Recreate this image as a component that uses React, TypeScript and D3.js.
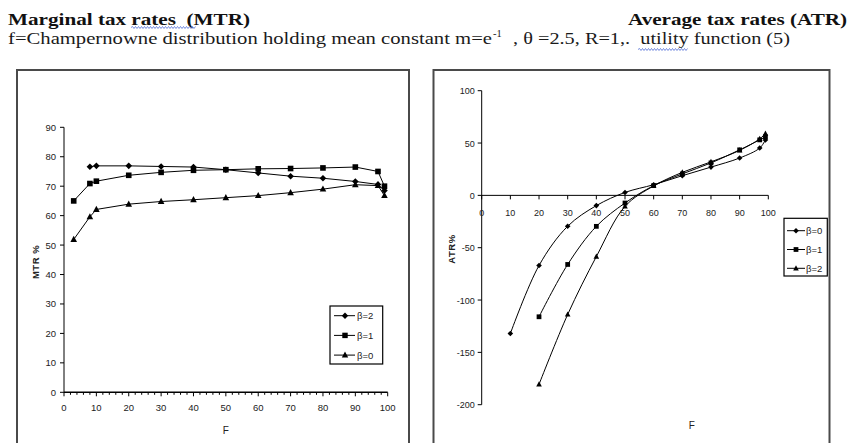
import React from "react";
import * as d3 from "d3";

// ---------- Data ----------
const mtrX = [3, 8, 10, 20, 30, 40, 50, 60, 70, 80, 90, 97, 99];
const mtrBeta2 = [null, 76.6, 76.9, 76.9, 76.7, 76.5, 75.6, 74.5, 73.4, 72.7, 71.6, 70.6, 68.5];
const mtrBeta1 = [65.0, 70.9, 71.7, 73.7, 74.7, 75.4, 75.6, 75.9, 76.0, 76.2, 76.5, 75.0, 70.0];
const mtrBeta0 = [51.9, 59.6, 62.1, 63.9, 64.8, 65.4, 66.1, 66.8, 67.8, 69.0, 70.5, 70.2, 66.8];

const atrX = [10, 20, 30, 40, 50, 60, 70, 80, 90, 97, 99];
const atrBeta0 = [-132, -67, -29.5, -9.8, 2.8, 10.2, 18.8, 27, 35.7, 45.2, 53];
const atrBeta1 = [null, -116, -66, -29.6, -7.3, 9.3, 20.5, 31, 43.5, 53, 56];
const atrBeta2 = [null, -180.6, -113.8, -58.5, -10.5, 9, 22, 32, 43, 54, 59];

const mtrTicksY = [0, 10, 20, 30, 40, 50, 60, 70, 80, 90];
const xTicks = [0, 10, 20, 30, 40, 50, 60, 70, 80, 90, 100];
const atrTicksY = [100, 50, 0, -50, -100, -150, -200];

const mtrLegend = ["β=2", "β=1", "β=0"];
const atrLegend = ["β=0", "β=1", "β=2"];

type Shape = "diamond" | "square" | "triangle";

function Marker({ x, y, shape, s }: { x: number; y: number; shape: Shape; s: number }) {
  if (shape === "diamond") {
    return <path d={`M${x},${y - s}L${x + s},${y}L${x},${y + s}L${x - s},${y}Z`} fill="#000" />;
  }
  if (shape === "square") {
    return <rect x={x - s * 0.85} y={y - s * 0.85} width={s * 1.7} height={s * 1.7} fill="#000" />;
  }
  return <path d={`M${x},${y - s * 1.1}L${x + s},${y + s * 0.75}L${x - s},${y + s * 0.75}Z`} fill="#000" />;
}

function wavy(x0: number, x1: number, y: number) {
  let d = `M${x0},${y}`;
  let up = true;
  for (let x = x0 + 1.5; x <= x1; x += 1.5) {
    d += `L${x},${y + (up ? -1 : 1)}`;
    up = !up;
  }
  return d;
}

export default function App() {
  const W = 852;
  const H = 443;
  const axisFont = "'Liberation Sans', Arial, sans-serif";
  const serif = "'Liberation Serif', 'DejaVu Serif', 'Times New Roman', serif";

  // Left chart scales
  const lx = d3.scaleLinear().domain([0, 100]).range([64, 387.7]);
  const ly = d3.scaleLinear().domain([0, 90]).range([392.3, 127.3]);

  // Right chart scales
  const rx = d3.scaleLinear().domain([0, 100]).range([481.7, 768.3]);
  const ry = d3.scaleLinear().domain([-200, 100]).range([404.7, 90.7]);

  const lineL = d3
    .line<[number, number | null]>()
    .defined((d) => d[1] !== null)
    .x((d) => lx(d[0]))
    .y((d) => ly(d[1] as number));

  const lineR = d3
    .line<[number, number | null]>()
    .defined((d) => d[1] !== null)
    .x((d) => rx(d[0]))
    .y((d) => ry(d[1] as number))
    .curve(d3.curveCatmullRom.alpha(0.5));

  const mtrSeries: { vals: (number | null)[]; shape: Shape }[] = [
    { vals: mtrBeta2, shape: "diamond" },
    { vals: mtrBeta1, shape: "square" },
    { vals: mtrBeta0, shape: "triangle" },
  ];
  const atrSeries: { vals: (number | null)[]; shape: Shape }[] = [
    { vals: atrBeta0, shape: "diamond" },
    { vals: atrBeta1, shape: "square" },
    { vals: atrBeta2, shape: "triangle" },
  ];

  const minorTicks = d3.range(0, 101, 2).filter((v) => v % 10 !== 0);

  return (
    <svg
      width={W}
      height={H}
      style={{ position: "absolute", left: 0, top: 0, background: "#fff" }}
    >
      {/* Titles */}
      <text
        x={8}
        y={24.5}
        fontFamily={serif}
        fontWeight="bold"
        fontSize={17.5}
        fill="#111"
        textLength={242}
        lengthAdjust="spacingAndGlyphs"
        style={{ whiteSpace: "pre" }}
      >
        {"Marginal tax rates  (MTR)"}
      </text>
      <path d={wavy(131, 196, 27.5)} stroke="#5470d6" strokeWidth={0.8} fill="none" />
      <text
        x={628}
        y={24.5}
        fontFamily={serif}
        fontWeight="bold"
        fontSize={17.5}
        fill="#111"
        textLength={219}
        lengthAdjust="spacingAndGlyphs"
      >
        Average tax rates (ATR)
      </text>
      <text
        x={8}
        y={44}
        fontFamily={serif}
        fontSize={16}
        fill="#1a1a1a"
        textLength={484}
        lengthAdjust="spacingAndGlyphs"
      >
        f=Champernowne distribution holding mean constant m=e
      </text>
      <text x={493} y={37} fontFamily={serif} fontSize={10.5} fill="#1a1a1a">
        -1
      </text>
      <text
        x={508}
        y={44}
        fontFamily={serif}
        fontSize={16}
        fill="#1a1a1a"
        textLength={282}
        lengthAdjust="spacingAndGlyphs"
        style={{ whiteSpace: "pre" }}
      >
        {" , θ =2.5, R=1,.  utility function (5)"}
      </text>
      <path d={wavy(638, 688, 49.5)} stroke="#5470d6" strokeWidth={0.8} fill="none" />

      {/* Frames */}
      <rect x={17} y={70} width={392} height={400} fill="none" stroke="#4a4a4a" strokeWidth={2} />
      <rect x={433.5} y={70} width={396} height={400} fill="none" stroke="#4a4a4a" strokeWidth={2} />

      {/* ---------- Left chart ---------- */}
      <g fontFamily={axisFont} fontSize={9.5} fill="#222">
        <line x1={lx(0)} x2={lx(0)} y1={ly(90)} y2={ly(0)} stroke="#000" />
        <line x1={lx(0)} x2={lx(100)} y1={ly(0)} y2={ly(0)} stroke="#000" strokeWidth={1.5} />
        {mtrTicksY.map((t) => (
          <g key={"ly" + t}>
            <line x1={lx(0) - 4} x2={lx(0)} y1={ly(t)} y2={ly(t)} stroke="#000" />
            <text x={lx(0) - 8} y={ly(t) + 3.5} textAnchor="end">
              {t}
            </text>
          </g>
        ))}
        {xTicks.map((t) => (
          <g key={"lx" + t}>
            <line x1={lx(t)} x2={lx(t)} y1={ly(0)} y2={ly(0) + 4} stroke="#000" />
            <text x={lx(t)} y={ly(0) + 19} textAnchor="middle">
              {t}
            </text>
          </g>
        ))}
        {minorTicks.map((t) => (
          <line key={"lm" + t} x1={lx(t)} x2={lx(t)} y1={ly(0)} y2={ly(0) + 2.5} stroke="#000" />
        ))}
        <text x={225.7} y={434} textAnchor="middle" fontSize={10}>
          F
        </text>
        <text
          transform={`translate(39,262) rotate(-90)`}
          textAnchor="middle"
          fontSize={9.5}
          fontWeight="bold"
          letterSpacing={0.5}
        >
          MTR %
        </text>
        {mtrSeries.map((s, i) => {
          const pts = mtrX.map((x, j) => [x, s.vals[j]] as [number, number | null]);
          return (
            <g key={"ms" + i}>
              <path d={lineL(pts) || ""} fill="none" stroke="#000" strokeWidth={1} />
              {pts
                .filter((p) => p[1] !== null)
                .map((p, j) => (
                  <Marker key={j} x={lx(p[0])} y={ly(p[1] as number)} shape={s.shape} s={3.3} />
                ))}
            </g>
          );
        })}
        {/* Legend */}
        <rect x={330} y={306} width={52.7} height={58} fill="#fff" stroke="#000" strokeWidth={1.2} />
        {mtrLegend.map((lab, i) => {
          const y = 315.7 + i * 19.7;
          return (
            <g key={"ll" + i}>
              <line x1={334} x2={355} y1={y} y2={y} stroke="#000" />
              <Marker x={345} y={y} shape={mtrSeries[i].shape} s={3.2} />
              <text x={357} y={y + 3.5} fontSize={9.5}>
                {lab}
              </text>
            </g>
          );
        })}
      </g>

      {/* ---------- Right chart ---------- */}
      <g fontFamily={axisFont} fontSize={9} fill="#222">
        <line x1={rx(0)} x2={rx(0)} y1={ry(100)} y2={ry(-200)} stroke="#000" />
        <line x1={rx(0)} x2={rx(100)} y1={ry(0)} y2={ry(0)} stroke="#000" />
        {atrTicksY.map((t) => (
          <g key={"ry" + t}>
            <line x1={rx(0) - 4} x2={rx(0)} y1={ry(t)} y2={ry(t)} stroke="#000" />
            <text x={rx(0) - 7} y={ry(t) + 3.5} textAnchor="end">
              {t}
            </text>
          </g>
        ))}
        {xTicks.map((t) => (
          <g key={"rx" + t}>
            <line x1={rx(t)} x2={rx(t)} y1={ry(0)} y2={ry(0) + 4} stroke="#000" />
            <text x={rx(t)} y={ry(0) + 21} textAnchor="middle">
              {t}
            </text>
          </g>
        ))}
        <text x={691.7} y={429} textAnchor="middle" fontSize={10}>
          F
        </text>
        <text
          transform={`translate(455,249) rotate(-90)`}
          textAnchor="middle"
          fontSize={9.5}
          fontWeight="bold"
          letterSpacing={0.5}
        >
          ATR%
        </text>
        {atrSeries.map((s, i) => {
          const pts = atrX.map((x, j) => [x, s.vals[j]] as [number, number | null]);
          return (
            <g key={"as" + i}>
              <path d={lineR(pts) || ""} fill="none" stroke="#000" strokeWidth={1} />
              {pts
                .filter((p) => p[1] !== null)
                .map((p, j) => (
                  <Marker key={j} x={rx(p[0])} y={ry(p[1] as number)} shape={s.shape} s={2.8} />
                ))}
            </g>
          );
        })}
        {/* Legend */}
        <rect x={784} y={218.3} width={43.3} height={57.7} fill="#fff" stroke="#000" strokeWidth={1.2} />
        {atrLegend.map((lab, i) => {
          const y = 230.7 + i * 18.8;
          return (
            <g key={"rl" + i}>
              <line x1={787} x2={805} y1={y} y2={y} stroke="#000" />
              <Marker x={796} y={y} shape={atrSeries[i].shape} s={2.8} />
              <text x={806} y={y + 3.5} fontSize={9.5}>
                {lab}
              </text>
            </g>
          );
        })}
      </g>
    </svg>
  );
}
